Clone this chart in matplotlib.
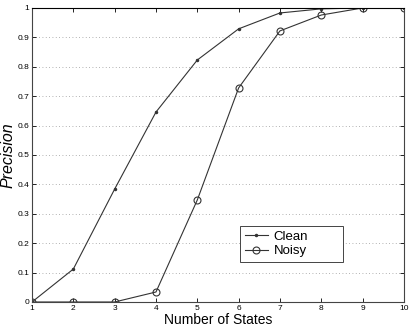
import numpy as np
import matplotlib
matplotlib.use('Agg')
import matplotlib.pyplot as plt

plt.rcParams['font.family'] = ['Liberation Sans', 'DejaVu Sans']

states = [1, 2, 3, 4, 5, 6, 7, 8, 9, 10]
clean = [0.0, 0.112, 0.384, 0.646, 0.823, 0.929, 0.983, 0.997, 1.0, 1.0]
noisy = [0.0, 0.0, 0.0, 0.034, 0.347, 0.728, 0.922, 0.976, 1.0, 1.0]
yticks = [0, 0.1, 0.2, 0.3, 0.4, 0.5, 0.6, 0.7, 0.8, 0.9, 1]
ytick_labels = ['0', '0.1', '0.2', '0.3', '0.4', '0.5', '0.6', '0.7', '0.8', '0.9', '1']

fig = plt.figure(figsize=(4.13, 3.32), dpi=100)
ax = fig.add_axes([0.0775, 0.0904, 0.9005, 0.8856])

ax.plot(states, clean, '-', color='#333333', lw=0.8, marker='.', ms=3, label='Clean')
ax.plot(states, noisy, '-', color='#333333', lw=0.8, marker='o', ms=5,
        mfc='none', mew=0.8, label='Noisy')

ax.set_xlim(1, 10)
ax.set_ylim(0, 1)
ax.set_xticks(states)
ax.set_yticks(yticks)
ax.set_yticklabels(ytick_labels)
ax.tick_params(direction='in', labelsize=6, length=3, width=0.6,
               top=True, right=True, pad=2)
ax.yaxis.grid(True, linestyle=(0, (1, 3)), color='#999999', lw=0.6)

for s in ax.spines.values():
    s.set_linewidth(0.8)
    s.set_color('#444444')
ax.spines['top'].set_color('black')

ax.set_xlabel('Number of States', fontsize=10, labelpad=1)
ax.set_ylabel('Precision', fontsize=11.5, style='italic')
ax.yaxis.set_label_coords(-0.045, 0.5)

leg = ax.legend(loc='lower left', bbox_to_anchor=(0.559, 0.136, 0.277, 0.12),
                mode='expand', fontsize=9.5,
                fancybox=False, framealpha=1, edgecolor='#444444',
                handlelength=1.8, borderpad=0.35, labelspacing=0.2,
                handletextpad=0.4, borderaxespad=0)
leg.get_frame().set_linewidth(0.7)

fig.savefig('out.png', dpi=100)
